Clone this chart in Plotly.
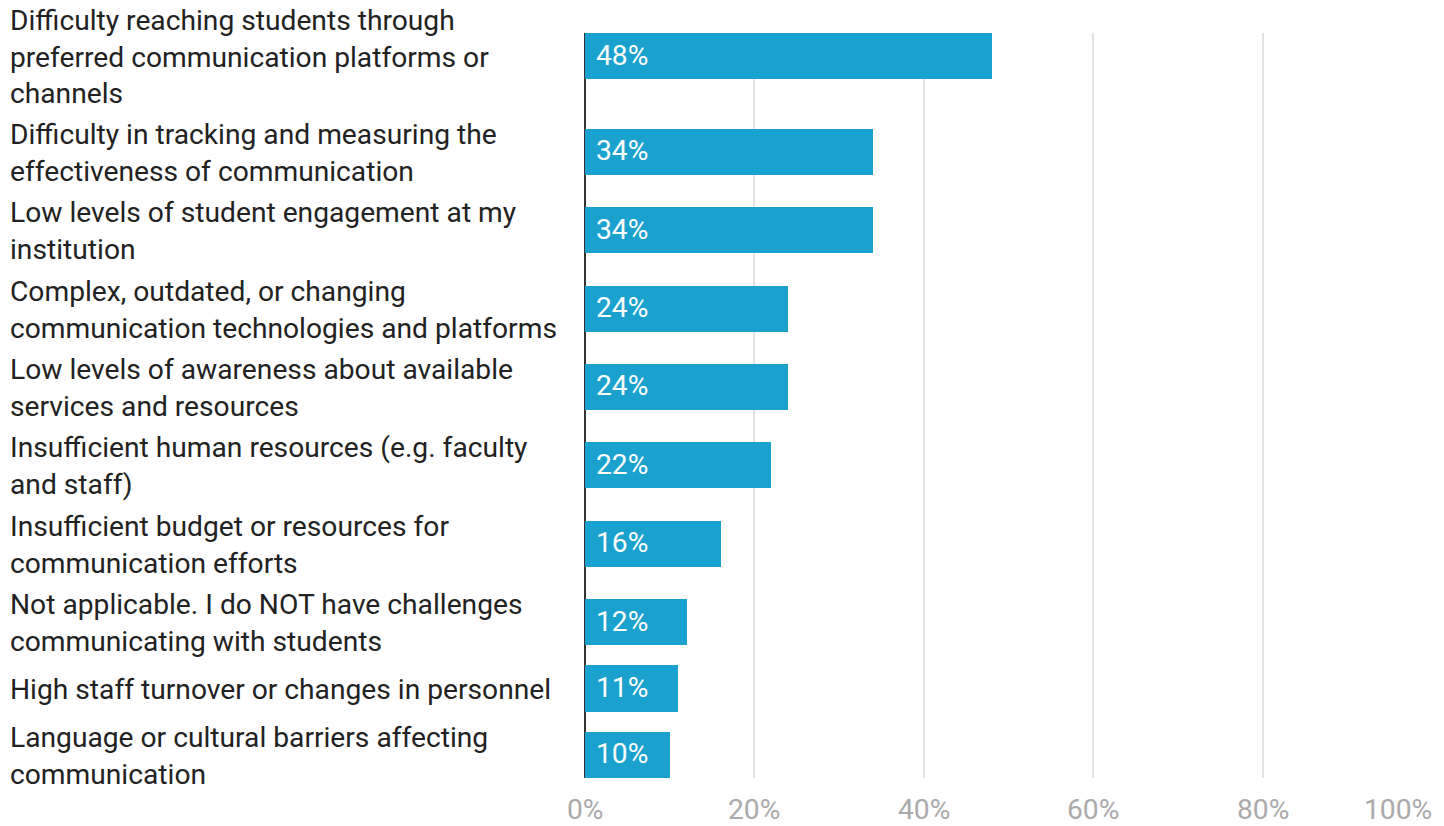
import plotly.graph_objects as go

# Survey answers (top to bottom) and share of respondents, in percent
categories = [
    "Difficulty reaching students through<br>preferred communication platforms or<br>channels",
    "Difficulty in tracking and measuring the<br>effectiveness of communication",
    "Low levels of student engagement at my<br>institution",
    "Complex, outdated, or changing<br>communication technologies and platforms",
    "Low levels of awareness about available<br>services and resources",
    "Insufficient human resources (e.g. faculty<br>and staff)",
    "Insufficient budget or resources for<br>communication efforts",
    "Not applicable. I do NOT have challenges<br>communicating with students",
    "High staff turnover or changes in personnel",
    "Language or cultural barriers affecting<br>communication",
]
values = [48, 34, 34, 24, 24, 22, 16, 12, 11, 10]
tick_values = [0, 20, 40, 60, 80, 100]
tick_labels = [f"{t}%" for t in tick_values]

# Figure geometry (pixels)
W, H = 1444, 826
M_L, M_R, M_T, M_B = 585, 12, 33, 48
PLOT_W = W - M_L - M_R

BAR_COLOR = "#1ba1ce"
FONT = "Roboto"
FS = 28.2

# Rows are stacked in "text line" units so each row is as tall as its label
BAR = 1.32   # bar thickness
GAP = 0.24   # space between rows
heights = [max(c.count("<br>") + 1, BAR) for c in categories]
centers = []
pos = 0.0
for i, h in enumerate(heights):
    if i == 0:
        pos = h / 2
    else:
        pos += heights[i - 1] / 2 + GAP + h / 2
    centers.append(pos)

y_top = centers[0] - BAR / 2
y_bottom = centers[-1] + BAR / 2

fig = go.Figure(
    go.Bar(
        x=values,
        y=centers,
        orientation="h",
        width=BAR,
        marker=dict(color=BAR_COLOR, line=dict(width=0)),
        hoverinfo="skip",
    )
)

annotations = []
# Category labels, left aligned at the page edge
for c, y in zip(categories, centers):
    annotations.append(dict(
        x=(8 - M_L) / PLOT_W, xref="paper", y=y, yref="y",
        text=c, showarrow=False, xanchor="left", yanchor="middle", align="left",
        font=dict(family=FONT, size=FS, color="#222222"),
        yshift=-1,
    ))
# Value labels inside the bars
for v, y in zip(values, centers):
    annotations.append(dict(
        x=0, xref="x", y=y, yref="y",
        text=f"{v:.0f}%", showarrow=False, xanchor="left", yanchor="middle",
        font=dict(family=FONT, size=FS, color="white"),
        xshift=9, yshift=1,
    ))
# X axis tick labels (the last one is kept inside the page)
for i, (t, lab) in enumerate(zip(tick_values, tick_labels)):
    last = i == len(tick_values) - 1
    annotations.append(dict(
        x=t, xref="x", y=0, yref="paper",
        text=lab, showarrow=False,
        xanchor="right" if last else "center", yanchor="top",
        font=dict(family=FONT, size=FS, color="#aaaaaa"),
        yshift=-13, xshift=2 if last else 0,
    ))

fig.update_layout(
    width=W, height=H,
    margin=dict(l=M_L, r=M_R, t=M_T, b=M_B, pad=0),
    paper_bgcolor="white", plot_bgcolor="white",
    showlegend=False,
    bargap=0,
    annotations=annotations,
    xaxis=dict(
        range=[0, 100], tickvals=tick_values, showticklabels=False,
        showgrid=True, gridcolor="#e3e3e3", gridwidth=2,
        zeroline=True, zerolinecolor="#333333", zerolinewidth=2,
        showline=False, fixedrange=True,
    ),
    yaxis=dict(
        range=[y_bottom, y_top], showticklabels=False, showgrid=False,
        zeroline=False, showline=False, fixedrange=True,
    ),
)

fig.write_html("out.html", config={"displayModeBar": False})
